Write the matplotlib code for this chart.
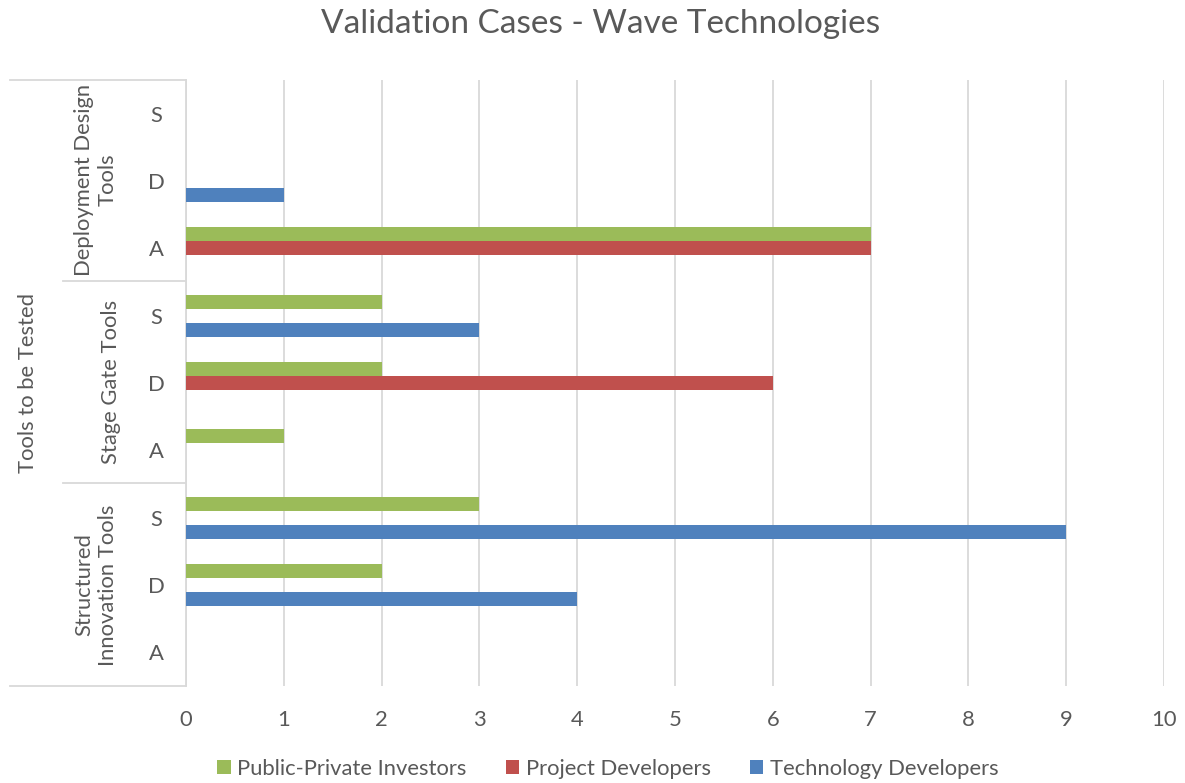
import matplotlib
matplotlib.use("Agg")
import matplotlib.pyplot as plt
from matplotlib.patches import Patch
from matplotlib.lines import Line2D
import numpy as np

# ---- data ----
groups = ["Structured\nInnovation Tools", "Stage Gate Tools", "Deployment Design\nTools"]
subcats = ["A", "D", "S"]
series_names = ["Technology Developers", "Project Developers", "Public-Private Investors"]
tech_dev = [0, 4, 9, 0, 0, 3, 0, 1, 0]
proj_dev = [0, 0, 0, 0, 6, 0, 7, 0, 0]
pub_priv = [0, 2, 3, 1, 2, 2, 7, 0, 0]
x_ticks = [0, 1, 2, 3, 4, 5, 6, 7, 8, 9, 10]
title = "Validation Cases - Wave Technologies"
axis_title = "Tools to be Tested"

colors = {"Technology Developers": "#4F81BD",
          "Project Developers": "#C0504D",
          "Public-Private Investors": "#9BBB59"}
txt = "#595959"
grid = "#D9D9D9"
FONT = ["Lato", "DejaVu Sans"]
plt.rcParams["font.family"] = FONT
FS = 15.8

W, H = 1185, 783
fig = plt.figure(figsize=(W / 100, H / 100), dpi=100)

def fx(px):
    return px / W

def fy(py):
    return 1 - py / H

L, R, T, B = 186, 1164, 80, 686
ax = fig.add_axes([fx(L), fy(B), fx(R) - fx(L), fy(T) - fy(B)])

n = len(tech_dev)
y = np.arange(n)
h = 0.208
vals = [tech_dev, proj_dev, pub_priv]
for i, (name, v) in enumerate(zip(series_names, vals)):
    ax.barh(y + (i - 1) * h, v, height=h, color=colors[name], zorder=3)

ax.set_xlim(0, 10)
ax.set_ylim(-0.5, n - 0.5)
ax.set_xticks(x_ticks)
ax.set_xticklabels([str(t) for t in x_ticks], color=txt, fontsize=FS)
ax.tick_params(axis="x", length=0, pad=17)
ax.set_yticks(y)
ax.set_yticklabels(subcats * 3, color=txt, fontsize=FS)
for lbl in ax.get_yticklabels():
    lbl.set_horizontalalignment("center")
ax.tick_params(axis="y", length=0, pad=30 * 0.72)
ax.grid(axis="x", color=grid, linewidth=1.3, zorder=0)
for s in ["top", "right", "bottom"]:
    ax.spines[s].set_visible(False)
ax.spines["left"].set_color(grid)
ax.spines["left"].set_linewidth(1.3)

# multi-level axis lines
def hline(x0, x1, yy):
    fig.add_artist(Line2D([fx(x0), fx(x1)], [fy(yy), fy(yy)], color=grid, lw=1.3))

hline(10, L, T)
hline(63, L, 281)
hline(63, L, 483)
hline(10, L, B)

# group labels
gcent = [585, 382, 180]
gx = [96, 111, 96]
for g, xc, yc in zip(groups, gx, gcent):
    fig.text(fx(xc), fy(yc), g, rotation=90, ha="center", va="center",
             multialignment="center", color=txt, fontsize=FS, linespacing=1.2)
fig.text(fx(28), fy(383), axis_title, rotation=90, ha="center", va="center",
         color=txt, fontsize=FS)

fig.text(fx(601), fy(24), title, ha="center", va="center", color=txt, fontsize=24)

handles = [Patch(facecolor=colors[s]) for s in ["Public-Private Investors", "Project Developers", "Technology Developers"]]
fig.legend(handles, ["Public-Private Investors", "Project Developers", "Technology Developers"],
           loc="center", bbox_to_anchor=(fx(608), fy(769)), ncol=3, frameon=False,
           fontsize=FS, labelcolor=txt, handlelength=0.6, handleheight=0.6,
           handletextpad=0.3, columnspacing=1.8)

fig.savefig("out.png", dpi=100)
